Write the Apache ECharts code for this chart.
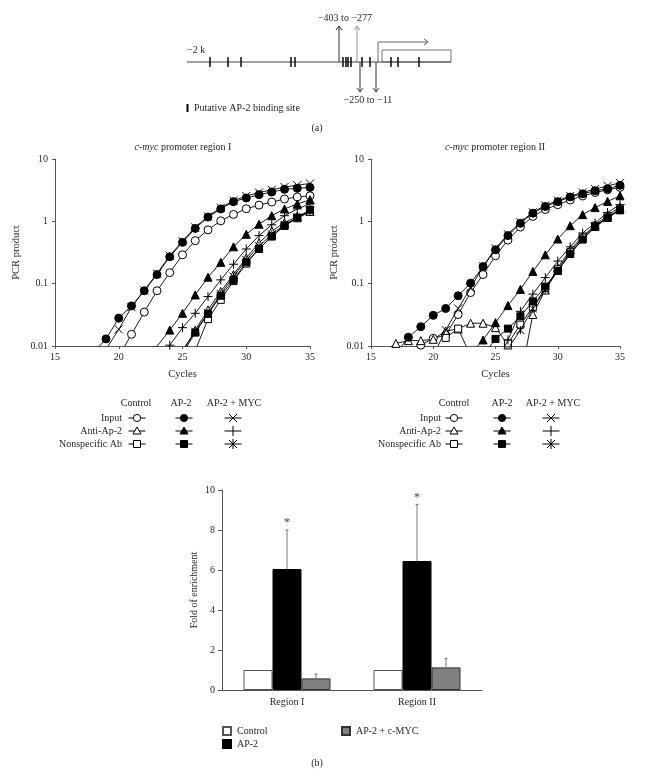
<!DOCTYPE html>
<html><head><meta charset="utf-8">
<script src="https://cdn.jsdelivr.net/npm/echarts@6/dist/echarts.min.js"></script>
<style>html,body{margin:0;padding:0;background:#fff}#c{width:647px;height:777px}</style>
</head><body><div id="c"></div>
<script>
// ---------- DATA ----------
const cycleTicks = [15, 20, 25, 30, 35];
const yLogTicks = ['0.01', '0.1', '1', '10'];

// Region I  [cycle, PCR product]
const r1CtrlInput = [[20,0.0068],[21,0.0154],[22,0.035],[23,0.077],[24,0.15],[25,0.29],[26,0.49],[27,0.73],[28,1.02],[29,1.29],[30,1.59],[31,1.82],[32,2.04],[33,2.28],[34,2.46],[35,2.57]];
const r1Ap2Input = [[18,0.0078],[19,0.013],[20,0.028],[21,0.044],[22,0.077],[23,0.14],[24,0.27],[25,0.46],[26,0.77],[27,1.17],[28,1.58],[29,2.07],[30,2.37],[31,2.68],[32,2.95],[33,3.26],[34,3.39],[35,3.5]];
const r1MycInput = [[19,0.0088],[20,0.0185],[21,0.042],[22,0.078],[23,0.145],[24,0.28],[25,0.48],[26,0.8],[27,1.2],[28,1.65],[29,2.15],[30,2.55],[31,2.9],[32,3.2],[33,3.55],[34,3.8],[35,4.05]];
const r1CtrlAnti = [[25,0.008],[26,0.018],[27,0.038],[28,0.075],[29,0.14],[30,0.26],[31,0.45],[32,0.7],[33,0.95],[34,1.2],[35,1.45]];
const r1Ap2Anti = [[22,0.0088],[23,0.0099],[24,0.018],[25,0.0335],[26,0.066],[27,0.127],[28,0.22],[29,0.39],[30,0.62],[31,0.9],[32,1.23],[33,1.58],[34,1.9],[35,2.22]];
const r1MycAnti = [[23,0.0055],[24,0.0103],[25,0.0197],[26,0.0335],[27,0.062],[28,0.115],[29,0.205],[30,0.36],[31,0.59],[32,0.88],[33,1.23],[34,1.58],[35,1.9]];
const r1CtrlNon = [[26,0.0085],[27,0.027],[28,0.055],[29,0.11],[30,0.21],[31,0.36],[32,0.58],[33,0.85],[34,1.12],[35,1.42]];
const r1Ap2Non = [[25,0.0075],[26,0.0164],[27,0.0327],[28,0.064],[29,0.115],[30,0.22],[31,0.36],[32,0.57],[33,0.85],[34,1.15],[35,1.54]];
const r1MycNon = [[25,0.0085],[26,0.017],[27,0.034],[28,0.068],[29,0.13],[30,0.24],[31,0.4],[32,0.62],[33,0.88],[34,1.15],[35,1.45]];

// Region II
const r2CtrlInput = [[18,0.0085],[19,0.0103],[20,0.0133],[21,0.015],[22,0.032],[23,0.072],[24,0.14],[25,0.28],[26,0.5],[27,0.81],[28,1.2],[29,1.55],[30,1.85],[31,2.2],[32,2.55],[33,2.9],[34,3.2],[35,3.5]];
const r2Ap2Input = [[17,0.0075],[18,0.0138],[19,0.0204],[20,0.031],[21,0.04],[22,0.064],[23,0.102],[24,0.188],[25,0.35],[26,0.59],[27,0.93],[28,1.35],[29,1.73],[30,2.07],[31,2.46],[32,2.76],[33,3.1],[34,3.33],[35,3.78]];
const r2MycInput = [[20,0.007],[21,0.018],[22,0.04],[23,0.085],[24,0.19],[25,0.37],[26,0.62],[27,0.97],[28,1.4],[29,1.8],[30,2.15],[31,2.55],[32,2.9],[33,3.3],[34,3.7],[35,4.15]];
const r2CtrlAnti = [[16,0.008],[17,0.011],[18,0.0122],[19,0.0122],[20,0.0128],[21,0.0174],[22,0.0188],[23,0.0232],[24,0.0232],[25,0.0197],[26,0.0104],[27,0.003],[28,0.032],[29,0.079],[30,0.18],[31,0.35],[32,0.57],[33,0.87],[34,1.25],[35,1.7]];
const r2Ap2Anti = [[23,0.0075],[24,0.0125],[25,0.0237],[26,0.0445],[27,0.081],[28,0.157],[29,0.29],[30,0.52],[31,0.85],[32,1.28],[33,1.66],[34,2.09],[35,2.57]];
const r2MycAnti = [[25,0.005],[26,0.0125],[27,0.036],[28,0.068],[29,0.125],[30,0.23],[31,0.39],[32,0.65],[33,0.94],[34,1.39],[35,1.85]];
const r2CtrlNon = [[21,0.0135],[22,0.019],[23,0.007],[24,0.005],[25,0.006],[26,0.011],[27,0.022],[28,0.042],[29,0.085],[30,0.17],[31,0.32],[32,0.55],[33,0.85],[34,1.15],[35,1.55]];
const r2Ap2Non = [[24,0.007],[25,0.013],[26,0.019],[27,0.03],[28,0.052],[29,0.09],[30,0.16],[31,0.3],[32,0.51],[33,0.81],[34,1.13],[35,1.5]];
const r2MycNon = [[25,0.005],[26,0.009],[27,0.018],[28,0.04],[29,0.08],[30,0.16],[31,0.3],[32,0.52],[33,0.82],[34,1.15],[35,1.6]];

// Bar chart (fold of enrichment)
const barCats = ['Region I', 'Region II'];
const barTicks = [0, 2, 4, 6, 8, 10];
const ctrlFold = [1, 1];
const ap2Fold = [6.05, 6.45];
const mycFold = [0.58, 1.13];
const ap2ErrTop = [8.0, 9.28];
const mycErrTop = [0.8, 1.58];
const sigMarks = ['*', '*'];

// Schematic promoter map (schematic units along the promoter)
const promoterSpan = [0, 264];
const bindingSites = [23, 41, 54, 104, 108, 156, 159, 161, 164, 175, 183, 204, 211, 232];
const upArrowPos = [152, 170];
const downArrowPos = [173, 189];
const tssPos = 191;
const exonSpan = [195, 264];
const mapLabels = [[158, 44, '−403 to −277'], [181, -38, '−250 to −11'], [0, 12, '−2 k']];

// ---------- STYLE ----------
const FONT = 'Liberation Serif';
const TXT = '#262626';
const AX = '#555';
const BAR_W = 29;
const P_X = 'path://M0,0L10,10M10,0L0,10';
const P_PLUS = 'path://M5,0L5,10M0,5L10,5';
const P_AST = 'path://M0,0L10,10M10,0L0,10M5,0L5,10';

const chart = echarts.init(document.getElementById('c'));

function mk(name, data, gi, symbol, size, fill) {
  return {
    type: 'line', name, data, xAxisIndex: gi, yAxisIndex: gi,
    symbol, symbolSize: size, showAllSymbol: true, clip: true,
    lineStyle: { color: '#000', width: 0.9 },
    itemStyle: { color: fill, borderColor: '#000', borderWidth: 1 },
    emphasis: { disabled: true }, silent: true, z: fill === '#000' ? 4 : 3
  };
}
function plotSeries(gi, d) {
  return [
    mk('myc-input-' + gi, d[2], gi, P_X, 8, '#000'),
    mk('myc-anti-' + gi, d[5], gi, P_PLUS, 9, '#000'),
    mk('myc-non-' + gi, d[8], gi, P_AST, 8, '#000'),
    mk('ctrl-input-' + gi, d[0], gi, 'circle', 8, '#fff'),
    mk('ctrl-anti-' + gi, d[3], gi, 'triangle', 8, '#fff'),
    mk('ctrl-non-' + gi, d[6], gi, 'rect', 7, '#fff'),
    mk('ap2-input-' + gi, d[1], gi, 'circle', 8, '#000'),
    mk('ap2-anti-' + gi, d[4], gi, 'triangle', 8, '#000'),
    mk('ap2-non-' + gi, d[7], gi, 'rect', 7, '#000')
  ];
}

function logX(gi) {
  return {
    type: 'value', gridIndex: gi, min: cycleTicks[0], max: cycleTicks[cycleTicks.length - 1], interval: 5,
    name: 'Cycles', nameLocation: 'middle', nameGap: 23,
    nameTextStyle: { fontFamily: FONT, fontSize: 10.5, color: TXT },
    axisLine: { lineStyle: { color: AX } }, axisTick: { length: 3, lineStyle: { color: AX } },
    splitLine: { show: false },
    axisLabel: { fontFamily: FONT, fontSize: 10, color: TXT, margin: 6 }
  };
}
function logY(gi, gap) {
  return {
    type: 'log', logBase: 10, gridIndex: gi, min: 0.01, max: 10,
    name: 'PCR product', nameLocation: 'middle', nameGap: gap,
    nameTextStyle: { fontFamily: FONT, fontSize: 10.5, color: TXT },
    axisLine: { show: true, lineStyle: { color: AX } },
    axisTick: { show: true, length: 3, lineStyle: { color: AX } },
    minorTick: { show: false }, splitLine: { show: false },
    axisLabel: { fontFamily: FONT, fontSize: 10, color: TXT, margin: 7,
      formatter: v => yLogTicks[Math.round(Math.log10(v)) + 2] }
  };
}

// legend tables
function txt(x, y, text, align, size, extra) {
  return { type: 'text', x, y, silent: true, z: 10,
    style: Object.assign({ text, font: (size || 10) + 'px "' + FONT + '"', fill: TXT,
      align: align, textAlign: align, verticalAlign: 'middle', textVerticalAlign: 'middle' }, extra || {}) };
}
function icon(kind, cx, cy, fill) {
  const S = { stroke: '#000', lineWidth: 1 };
  const els = [{ type: 'line', shape: { x1: cx - 8.5, y1: cy, x2: cx + 8.5, y2: cy }, style: S }];
  if (kind === 'circle') els.push({ type: 'circle', shape: { cx, cy, r: 3.6 }, style: Object.assign({ fill }, S) });
  if (kind === 'tri') els.push({ type: 'polygon', shape: { points: [[cx, cy - 4], [cx + 4, cy + 3], [cx - 4, cy + 3]] }, style: Object.assign({ fill }, S) });
  if (kind === 'rect') els.push({ type: 'rect', shape: { x: cx - 3.5, y: cy - 3.5, width: 7, height: 7 }, style: Object.assign({ fill }, S) });
  if (kind === 'x' || kind === 'ast') {
    els.push({ type: 'line', shape: { x1: cx - 4, y1: cy - 4, x2: cx + 4, y2: cy + 4 }, style: S });
    els.push({ type: 'line', shape: { x1: cx + 4, y1: cy - 4, x2: cx - 4, y2: cy + 4 }, style: S });
  }
  if (kind === 'plus' || kind === 'ast') els.push({ type: 'line', shape: { x1: cx, y1: cy - 5, x2: cx, y2: cy + 5 }, style: S });
  els.forEach(e => { e.silent = true; e.z = 11; });
  return els;
}
const legendHeads = ['Control', 'AP-2', 'AP-2 + MYC'];
const legendRows = ['Input', 'Anti-Ap-2', 'Nonspecific Ab'];
function legendTable(labelRight, heads, cols) {
  const rows = [418, 431, 444];
  let els = [];
  heads.forEach((h, i) => els.push(txt(h, 403, legendHeads[i], 'center')));
  legendRows.forEach((r, i) => els.push(txt(labelRight, rows[i], r, 'right')));
  els = els.concat(icon('circle', cols[0], rows[0], '#fff'), icon('circle', cols[1], rows[0], '#000'), icon('x', cols[2], rows[0]));
  els = els.concat(icon('tri', cols[0], rows[1], '#fff'), icon('tri', cols[1], rows[1], '#000'), icon('plus', cols[2], rows[1]));
  els = els.concat(icon('rect', cols[0], rows[2], '#fff'), icon('rect', cols[1], rows[2], '#000'), icon('ast', cols[2], rows[2]));
  return els;
}

const italicRich = { rich: { i: { fontStyle: 'italic', font: 'italic 10px "' + FONT + '"', fill: TXT } } };
const graphics = [].concat(
  legendTable(122, [136, 181, 234], [137, 184, 233]),
  legendTable(441, [454, 502, 553], [454, 502, 551]),
  [
    txt(183, 147, '{i|c-myc} promoter region I', 'center', 10, italicRich),
    txt(495, 147, '{i|c-myc} promoter region II', 'center', 10, italicRich),
    txt(317, 128, '(a)', 'center'),
    txt(317, 763, '(b)', 'center'),
    { type: 'rect', shape: { x: 186.5, y: 104, width: 2, height: 8 }, style: { fill: '#000' }, silent: true },
    txt(194, 108, 'Putative AP-2 binding site', 'left')
  ]
);

// schematic custom series
function arrowRender(dir, color) {
  return function (params, api) {
    const a = api.coord([api.value(0), 0]);
    const b = api.coord([api.value(0), api.value(1)]);
    const h = dir > 0 ? 4 : -4;
    const c = api.value(2) ? '#999' : color;
    return { type: 'group', children: [
      { type: 'line', shape: { x1: a[0], y1: a[1], x2: b[0], y2: b[1] }, style: { stroke: c, lineWidth: 1 } },
      { type: 'polyline', shape: { points: [[b[0] - 3, b[1] + h], [b[0], b[1]], [b[0] + 3, b[1] + h]] }, style: { stroke: c, lineWidth: 1, fill: null } }
    ] };
  };
}

const option = {
  animation: false,
  backgroundColor: '#fff',
  grid: [
    { left: 55, top: 159, width: 255, height: 187 },
    { left: 371, top: 159, width: 249, height: 187 },
    { left: 222, top: 490, width: 260, height: 200 },
    { left: 187, top: 12, width: 264, height: 100 }
  ],
  xAxis: [
    logX(0), logX(1),
    { type: 'category', gridIndex: 2, data: barCats,
      axisLine: { lineStyle: { color: AX } }, axisTick: { length: 4, lineStyle: { color: AX } },
      axisLabel: { fontFamily: FONT, fontSize: 10, color: TXT, margin: 7 } },
    { type: 'value', gridIndex: 3, min: promoterSpan[0], max: promoterSpan[1], show: false }
  ],
  yAxis: [
    logY(0, 33), logY(1, 31),
    { type: 'value', gridIndex: 2, min: barTicks[0], max: barTicks[barTicks.length - 1], interval: 2,
      name: 'Fold of enrichment', nameLocation: 'middle', nameGap: 23,
      nameTextStyle: { fontFamily: FONT, fontSize: 10, color: TXT },
      axisLine: { show: true, lineStyle: { color: AX } }, axisTick: { show: true, length: 4, lineStyle: { color: AX } },
      splitLine: { show: false },
      axisLabel: { fontFamily: FONT, fontSize: 10, color: TXT, margin: 7 } },
    { type: 'value', gridIndex: 3, min: -50, max: 50, show: false }
  ],
  legend: [
    { data: ['Control', 'AP-2'], orient: 'vertical', left: 217, top: 721, icon: 'rect',
      itemWidth: 8, itemHeight: 8, itemGap: 3, selectedMode: false,
      textStyle: { fontFamily: FONT, fontSize: 10, color: TXT, padding: [0, 0, 0, 1] } },
    { data: ['AP-2 + c-MYC'], orient: 'vertical', left: 336, top: 721, icon: 'rect',
      itemWidth: 8, itemHeight: 8, selectedMode: false,
      textStyle: { fontFamily: FONT, fontSize: 10, color: TXT, padding: [0, 0, 0, 1] } }
  ],
  graphic: { elements: graphics },
  series: [].concat(
    plotSeries(0, [r1CtrlInput, r1Ap2Input, r1MycInput, r1CtrlAnti, r1Ap2Anti, r1MycAnti, r1CtrlNon, r1Ap2Non, r1MycNon]),
    plotSeries(1, [r2CtrlInput, r2Ap2Input, r2MycInput, r2CtrlAnti, r2Ap2Anti, r2MycAnti, r2CtrlNon, r2Ap2Non, r2MycNon]),
    [
      { type: 'bar', name: 'Control', xAxisIndex: 2, yAxisIndex: 2, data: ctrlFold, barWidth: BAR_W, barGap: '0%',
        itemStyle: { color: '#fff', borderColor: '#555', borderWidth: 1 }, silent: true },
      { type: 'bar', name: 'AP-2', xAxisIndex: 2, yAxisIndex: 2, data: ap2Fold, barWidth: BAR_W, barGap: '0%',
        itemStyle: { color: '#000', borderColor: '#000', borderWidth: 1 }, silent: true },
      { type: 'bar', name: 'AP-2 + c-MYC', xAxisIndex: 2, yAxisIndex: 2, data: mycFold, barWidth: BAR_W, barGap: '0%',
        itemStyle: { color: '#808080', borderColor: '#333', borderWidth: 1 }, silent: true },
      { type: 'custom', xAxisIndex: 2, yAxisIndex: 2, silent: true, z: 5,
        data: barCats.map((c, i) => [i, ap2Fold[i], ap2ErrTop[i], 0]).concat(barCats.map((c, i) => [i, mycFold[i], mycErrTop[i], 1])),
        renderItem(params, api) {
          const base = api.coord([api.value(0), api.value(1)]);
          const top = api.coord([api.value(0), api.value(2)]);
          const k = api.value(3);
          const x = base[0] + k * BAR_W;
          const ch = [
            { type: 'line', shape: { x1: x, y1: base[1], x2: x, y2: top[1] }, style: { stroke: '#777', lineWidth: 1 } },
            { type: 'line', shape: { x1: x - 1.5, y1: top[1], x2: x + 1.5, y2: top[1] }, style: { stroke: '#777', lineWidth: 1 } }
          ];
          if (k === 0) ch.push({ type: 'text', x: x, y: top[1] - 7, style: { text: sigMarks[api.value(0)], font: '12px "' + FONT + '"', fill: '#444', align: 'center', verticalAlign: 'middle' } });
          return { type: 'group', children: ch };
        } },
      // schematic
      { type: 'line', xAxisIndex: 3, yAxisIndex: 3, data: [[promoterSpan[0], 0], [promoterSpan[1], 0]], symbol: 'none',
        lineStyle: { color: '#444', width: 1 }, silent: true },
      { type: 'scatter', xAxisIndex: 3, yAxisIndex: 3, data: bindingSites.map(p => [p, 0]), symbol: 'rect', symbolSize: [1.8, 10],
        itemStyle: { color: '#000' }, silent: true, z: 4 },
      { type: 'custom', xAxisIndex: 3, yAxisIndex: 3, silent: true,
        data: upArrowPos.map((p, i) => [p, 36, i]), renderItem: arrowRender(1, '#333') },
      { type: 'custom', xAxisIndex: 3, yAxisIndex: 3, silent: true,
        data: downArrowPos.map(p => [p, -30, 0]), renderItem: arrowRender(-1, '#333') },
      { type: 'custom', xAxisIndex: 3, yAxisIndex: 3, silent: true,
        data: [[exonSpan[0], exonSpan[1], tssPos]],
        renderItem(params, api) {
          const p0 = api.coord([api.value(0), 0]);
          const p1 = api.coord([api.value(1), 12]);
          const t0 = api.coord([api.value(2), 0]);
          const t1 = api.coord([api.value(2), 20]);
          const tEnd = api.coord([api.value(2) + 50, 20]);
          return { type: 'group', children: [
            { type: 'rect', shape: { x: p0[0], y: p1[1], width: p1[0] - p0[0], height: p0[1] - p1[1] }, style: { fill: null, stroke: '#777', lineWidth: 1 } },
            { type: 'polyline', shape: { points: [t0, t1, tEnd] }, style: { fill: null, stroke: '#666', lineWidth: 1 } },
            { type: 'polyline', shape: { points: [[tEnd[0] - 4, tEnd[1] - 3], tEnd, [tEnd[0] - 4, tEnd[1] + 3]] }, style: { fill: null, stroke: '#666', lineWidth: 1 } }
          ] };
        } },
      { type: 'custom', xAxisIndex: 3, yAxisIndex: 3, silent: true,
        data: mapLabels.map(d => [d[0], d[1]]),
        renderItem(params, api) {
          const d = mapLabels[params.dataIndex];
          const p = api.coord([api.value(0), api.value(1)]);
          return { type: 'text', x: p[0], y: p[1], style: { text: d[2], font: '10px "' + FONT + '"', fill: TXT, align: params.dataIndex === 2 ? 'left' : 'center', verticalAlign: 'middle' } };
        } }
    ]
  )
};
chart.setOption(option);
</script></body></html>
